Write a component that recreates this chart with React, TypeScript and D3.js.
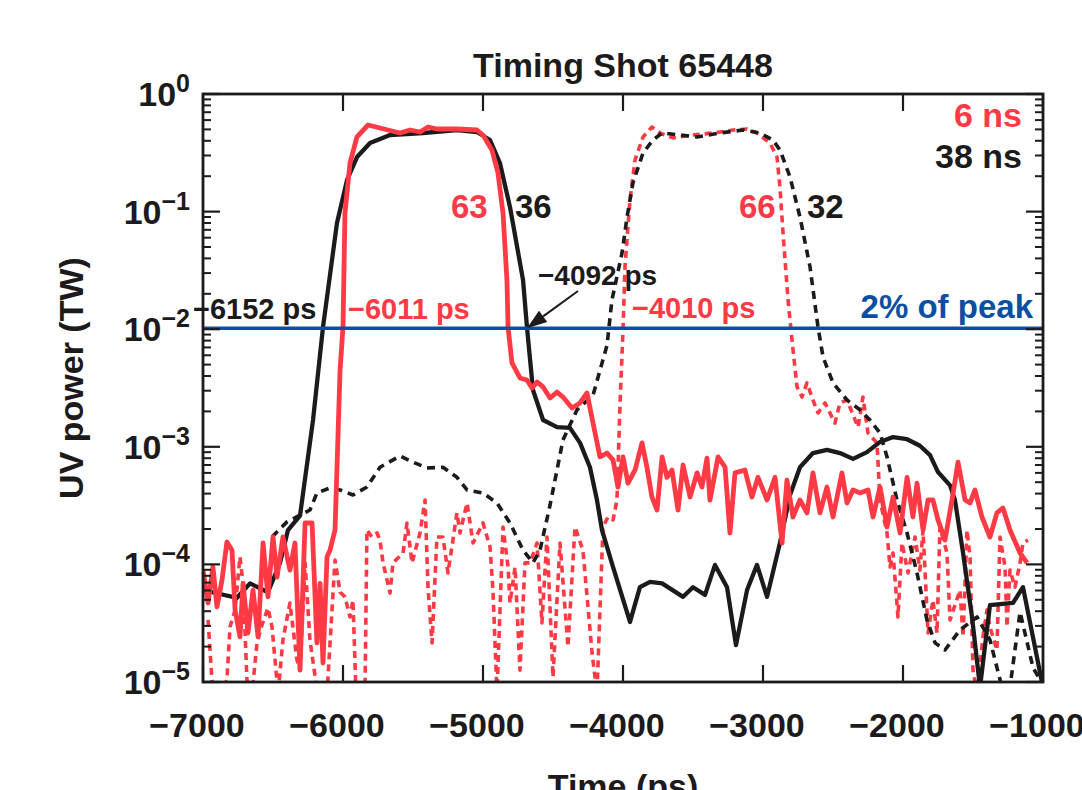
import React from "react";
import * as d3 from "d3";

const xTicks = [-7000, -6000, -5000, -4000, -3000, -2000, -1000];
const yExponents = [0, -1, -2, -3, -4, -5];
const peakFraction = 0.01;

// [time (ps), UV power (TW)]
const blackSolid38ns: [number, number][] = [
  [-7000, 6.05e-5], [-6879, 5.6e-5], [-6757, 5.2e-5], [-6664, 6.9e-5], [-6536, 5.8e-5],
  [-6450, 1.03e-4], [-6393, 1.96e-4], [-6307, 2.6e-4], [-6214, 1.69e-3], [-6143, 1.04e-2],
  [-6043, 0.08], [-5971, 0.186], [-5900, 0.291], [-5807, 0.383], [-5664, 0.448],
  [-5429, 0.466], [-5186, 0.494], [-5043, 0.475], [-4950, 0.406], [-4879, 0.259],
  [-4807, 0.109], [-4714, 0.0262], [-4686, 0.0104], [-4643, 3.04e-3], [-4571, 1.69e-3],
  [-4471, 1.47e-3], [-4379, 1.45e-3], [-4307, 1.08e-3], [-4236, 6.7e-4], [-4186, 3.53e-4],
  [-4150, 1.96e-4], [-4071, 9.5e-5], [-3950, 3.24e-5], [-3879, 6.4e-5], [-3807, 7.1e-5],
  [-3721, 6.9e-5], [-3571, 5.3e-5], [-3500, 6.4e-5], [-3414, 5.5e-5], [-3343, 9.9e-5],
  [-3257, 6.4e-5], [-3193, 2.06e-5], [-3114, 6.05e-5], [-3043, 9.9e-5], [-2971, 5.3e-5],
  [-2879, 1.52e-4], [-2807, 3.89e-4], [-2736, 6.7e-4], [-2643, 8.85e-4], [-2543, 9.4e-4],
  [-2450, 8.85e-4], [-2357, 7.9e-4], [-2257, 9.0e-4], [-2164, 1.1e-3], [-2071, 1.21e-3],
  [-1971, 1.16e-3], [-1879, 1.02e-3], [-1807, 8.5e-4], [-1750, 6.1e-4], [-1664, 4.7e-4],
  [-1629, 3.53e-4], [-1571, 1.25e-4], [-1507, 3.57e-5], [-1450, 9e-6], [-1379, 4.5e-5],
  [-1214, 4.7e-5], [-1143, 6.4e-5], [-1000, 9e-6],
];

const redSolid6ns: [number, number][] = [
  [-7000, 8.95e-5], [-6964, 4.7e-5], [-6929, 9.5e-5], [-6900, 4.35e-5], [-6864, 7.4e-5],
  [-6829, 1.55e-4], [-6793, 1.32e-4], [-6771, 4.1e-5], [-6736, 2.42e-5], [-6714, 6.9e-5],
  [-6679, 2.61e-5], [-6643, 6.05e-5], [-6607, 2.42e-5], [-6571, 1.52e-4], [-6536, 5.3e-5],
  [-6500, 1.71e-4], [-6471, 7.8e-5], [-6429, 1.71e-4], [-6379, 8.95e-5], [-6343, 1.52e-4],
  [-6307, 1.26e-5], [-6271, 2.25e-4], [-6221, 2.25e-4], [-6186, 2.15e-5], [-6164, 6.9e-5],
  [-6143, 1.45e-5], [-6114, 1.16e-4], [-6093, 1.32e-4], [-6057, 1.96e-4], [-6036, 1.21e-3],
  [-6021, 4.5e-3], [-6000, 1.04e-2], [-5986, 0.097], [-5950, 0.259], [-5900, 0.431],
  [-5821, 0.545], [-5736, 0.514], [-5593, 0.466], [-5521, 0.494], [-5450, 0.475],
  [-5393, 0.524], [-5329, 0.504], [-5186, 0.504], [-5043, 0.494], [-5000, 0.448],
  [-4936, 0.334], [-4893, 0.213], [-4857, 0.097], [-4829, 0.0262], [-4821, 0.0104],
  [-4793, 5.16e-3], [-4736, 3.85e-3], [-4686, 3.7e-3], [-4650, 3.16e-3], [-4614, 3.56e-3],
  [-4571, 3.23e-3], [-4521, 2.6e-3], [-4471, 2.92e-3], [-4429, 2.65e-3], [-4364, 2.14e-3],
  [-4307, 2.36e-3], [-4257, 2.87e-3], [-4214, 1.59e-3], [-4164, 8.2e-4], [-4114, 8.85e-4],
  [-4071, 7.7e-4], [-4036, 4.55e-4], [-4000, 8.2e-4], [-3964, 4.9e-4], [-3914, 6.35e-4],
  [-3864, 1.08e-3], [-3829, 6.7e-4], [-3793, 3.74e-4], [-3757, 2.9e-4], [-3721, 8.2e-4],
  [-3686, 5.5e-4], [-3650, 6.35e-4], [-3607, 2.9e-4], [-3571, 7.0e-4], [-3521, 3.74e-4],
  [-3471, 6.0e-4], [-3436, 4.55e-4], [-3400, 8.0e-4], [-3379, 3.53e-4], [-3321, 8.2e-4],
  [-3271, 6.7e-4], [-3236, 1.85e-4], [-3200, 6.0e-4], [-3129, 6.35e-4], [-3079, 3.74e-4],
  [-3036, 5.5e-4], [-2971, 3.53e-4], [-2914, 5.5e-4], [-2864, 1.52e-4], [-2829, 5.2e-4],
  [-2786, 2.53e-4], [-2736, 3.53e-4], [-2686, 2.74e-4], [-2643, 6.0e-4], [-2593, 2.74e-4],
  [-2543, 4.55e-4], [-2500, 2.53e-4], [-2436, 6.0e-4], [-2400, 3.33e-4], [-2357, 4.3e-4],
  [-2307, 4.05e-4], [-2250, 4.3e-4], [-2214, 2.53e-4], [-2164, 4.55e-4], [-2114, 2.08e-4],
  [-2071, 3.74e-4], [-2021, 1.85e-4], [-1971, 5.5e-4], [-1929, 2.53e-4], [-1900, 4.9e-4],
  [-1857, 1.96e-4], [-1821, 3.53e-4], [-1786, 3.53e-4], [-1750, 2.39e-4], [-1700, 1.61e-4],
  [-1650, 3.53e-4], [-1607, 7.4e-4], [-1557, 3.53e-4], [-1521, 3.33e-4], [-1486, 4.3e-4],
  [-1436, 2.53e-4], [-1379, 1.71e-4], [-1329, 2.74e-4], [-1286, 3.02e-4], [-1236, 1.96e-4],
  [-1164, 1.25e-4], [-1114, 1.03e-4],
];

const blackDashed38ns: [number, number][] = [
  [-6507, 1.71e-4], [-6400, 2.3e-4], [-6236, 2.9e-4], [-6186, 4.05e-4], [-6093, 4.47e-4],
  [-6021, 4.3e-4], [-5929, 3.89e-4], [-5829, 4.55e-4], [-5736, 6.7e-4], [-5593, 8.35e-4],
  [-5500, 7.4e-4], [-5400, 6.6e-4], [-5286, 6.7e-4], [-5186, 5.5e-4], [-5114, 4.3e-4],
  [-5000, 4.05e-4], [-4900, 3.33e-4], [-4807, 2.25e-4], [-4714, 1.32e-4], [-4643, 1.03e-4],
  [-4593, 1.32e-4], [-4521, 3.2e-4], [-4429, 1.14e-3], [-4329, 2.06e-3], [-4214, 2.75e-3],
  [-4114, 7.3e-3], [-4079, 0.0177], [-4007, 0.0445], [-3971, 0.09], [-3929, 0.175],
  [-3857, 0.315], [-3786, 0.406], [-3721, 0.466], [-3593, 0.448], [-3471, 0.431],
  [-3307, 0.466], [-3143, 0.494], [-3021, 0.466], [-2929, 0.406], [-2879, 0.334],
  [-2807, 0.197], [-2736, 0.09], [-2664, 0.0338], [-2607, 0.0104], [-2571, 5.8e-3],
  [-2500, 3.49e-3], [-2400, 2.5e-3], [-2307, 2.06e-3], [-2236, 1.69e-3], [-2164, 1.31e-3],
  [-2114, 8.2e-4], [-2043, 3.53e-4], [-1971, 1.85e-4], [-1900, 8.45e-5], [-1829, 3.37e-5],
  [-1771, 2.15e-5], [-1700, 1.87e-5], [-1593, 2.77e-5], [-1471, 3.57e-5], [-1379, 2.28e-5],
  [-1293, 9e-6], [-1236, 9e-6], [-1164, 3.94e-5], [-1071, 1.32e-5], [-1000, 9.5e-6],
];

const redDashed6ns: [number, number][] = [
  [-6964, 3.37e-5], [-6936, 1.04e-5], [-6893, 7e-6], [-6829, 1.04e-5], [-6807, 2.94e-5],
  [-6771, 4.1e-5], [-6736, 1.16e-4], [-6714, 6.9e-5], [-6686, 1.04e-5], [-6650, 8e-6],
  [-6614, 2.15e-5], [-6579, 3.05e-5], [-6536, 4.26e-5], [-6507, 2.94e-5], [-6464, 8e-6],
  [-6429, 2.28e-5], [-6379, 4.7e-5], [-6329, 1.54e-5], [-6307, 1.26e-5], [-6271, 1.03e-4],
  [-6236, 2.28e-5], [-6179, 7.5e-6], [-6114, 8e-6], [-6057, 1.09e-4], [-6021, 5.8e-5],
  [-5986, 5.3e-5], [-5950, 3.57e-5], [-5929, 4.98e-5], [-5907, 8e-6], [-5843, 8e-6],
  [-5829, 1.96e-4], [-5793, 1.71e-4], [-5757, 1.85e-4], [-5736, 1.61e-4], [-5714, 1.03e-4],
  [-5664, 5.7e-5], [-5643, 1.03e-4], [-5571, 1.25e-4], [-5543, 2.25e-4], [-5507, 1.03e-4],
  [-5450, 1.85e-4], [-5414, 3.53e-4], [-5393, 6.4e-5], [-5364, 2.15e-5], [-5329, 1.71e-4],
  [-5286, 1.71e-4], [-5250, 8.45e-5], [-5186, 2.74e-4], [-5164, 1.85e-4], [-5114, 3.33e-4],
  [-5071, 1.52e-4], [-5000, 2.25e-4], [-4950, 1.41e-4], [-4929, 6.05e-5], [-4900, 8e-6],
  [-4857, 2.08e-4], [-4821, 9.5e-5], [-4807, 4.7e-5], [-4771, 9.5e-5], [-4736, 1.26e-5],
  [-4700, 1.03e-4], [-4664, 1.03e-4], [-4614, 1.52e-4], [-4579, 3.18e-5], [-4543, 1.71e-4],
  [-4500, 1.1e-5], [-4450, 1.52e-4], [-4393, 1.99e-5], [-4343, 2.08e-4], [-4286, 1.32e-4],
  [-4221, 1.77e-5], [-4186, 8e-6], [-4143, 2.08e-4], [-4107, 2.53e-4], [-4071, 2.39e-4],
  [-4043, 3.53e-4], [-4021, 2.36e-3], [-4000, 9.8e-3], [-3986, 0.0338], [-3950, 0.126],
  [-3914, 0.275], [-3857, 0.431], [-3793, 0.524], [-3736, 0.466], [-3643, 0.423],
  [-3500, 0.448], [-3357, 0.466], [-3214, 0.494], [-3114, 0.504], [-3043, 0.466],
  [-2950, 0.383], [-2900, 0.291], [-2879, 0.162], [-2857, 0.0658], [-2821, 0.0177],
  [-2793, 8.1e-3], [-2757, 3.23e-3], [-2721, 2.65e-3], [-2686, 3.49e-3], [-2643, 2.5e-3],
  [-2607, 1.94e-3], [-2557, 2.36e-3], [-2486, 1.59e-3], [-2450, 2.36e-3], [-2400, 2.5e-3],
  [-2321, 1.47e-3], [-2286, 2.65e-3], [-2250, 1.31e-3], [-2186, 1.08e-3], [-2164, 3.53e-4],
  [-2114, 1.85e-4], [-2093, 9.5e-5], [-2071, 1.25e-4], [-2036, 3.57e-5], [-2007, 1.52e-4],
  [-1964, 8.45e-5], [-1914, 1.71e-4], [-1879, 8.95e-5], [-1857, 1.96e-4], [-1821, 2.61e-5],
  [-1786, 4.98e-5], [-1757, 2.61e-5], [-1736, 2.08e-4], [-1686, 1.25e-4], [-1664, 3.37e-5],
  [-1593, 6.05e-5], [-1571, 2.42e-5], [-1543, 1.96e-4], [-1521, 1.16e-4], [-1500, 1.26e-5],
  [-1471, 8e-6], [-1429, 2.42e-5], [-1400, 4.1e-5], [-1379, 2.94e-5], [-1329, 1.87e-5],
  [-1307, 1.71e-4], [-1271, 9.5e-5], [-1257, 2.94e-5], [-1236, 8.95e-5], [-1200, 6.4e-5],
  [-1164, 1.03e-4], [-1143, 1.52e-4], [-1107, 1.61e-4],
];

const RED = "#ff3a44";
const BLACK = "#1c1a1b";
const BLUE = "#0b4fa2";
const FONT = "'Liberation Sans', Arial, Helvetica, sans-serif";

export default function App() {
  const x = d3.scaleLinear().domain([-7000, -1000]).range([203, 1043]);
  const y = d3.scaleLog().domain([1e-5, 1]).range([682, 94]);
  const [x0, x1] = x.range();
  const [yb, yt] = y.range();
  const line = d3
    .line<[number, number]>()
    .x((d) => x(d[0]))
    .y((d) => y(Math.max(d[1], 1e-6)));

  const minor: number[] = [];
  for (let e = -5; e < 0; e++) for (let m = 2; m <= 9; m++) minor.push(m * Math.pow(10, e));

  const arrowTip = [x(-4686), y(peakFraction) - 1];
  const arrowStart = [578, 291];
  const ang = Math.atan2(arrowTip[1] - arrowStart[1], arrowTip[0] - arrowStart[0]);
  const hl = 20, hw = 7;
  const bx = arrowTip[0] - hl * Math.cos(ang), by = arrowTip[1] - hl * Math.sin(ang);
  const head = `M${arrowTip[0]},${arrowTip[1]} L${bx + hw * Math.sin(ang)},${by - hw * Math.cos(ang)} L${bx - hw * Math.sin(ang)},${by + hw * Math.cos(ang)} Z`;

  return (
    <svg width={1082} height={790} style={{ position: "absolute", left: 0, top: 0, background: "#fff" }} fontFamily={FONT} fontWeight="bold">
      <defs>
        <clipPath id="plot">
          <rect x={x0} y={yt} width={x1 - x0} height={yb - yt} />
        </clipPath>
      </defs>
      <text x={623} y={77} fontSize={34} textAnchor="middle" fill={BLACK}>Timing Shot 65448</text>

      <g clipPath="url(#plot)" fill="none" strokeLinejoin="round">
        <path d={line(redDashed6ns) || ""} stroke={RED} strokeWidth={3.6} strokeDasharray="7,5" />
        <path d={line(blackDashed38ns) || ""} stroke={BLACK} strokeWidth={3.6} strokeDasharray="8,6" />
        <path d={line(blackSolid38ns) || ""} stroke={BLACK} strokeWidth={4.3} />
        <path d={line(redSolid6ns) || ""} stroke={RED} strokeWidth={4.8} />
        <line x1={x0} x2={x1} y1={y(peakFraction) - 1} y2={y(peakFraction) - 1} stroke={BLUE} strokeWidth={3.4} />
      </g>

      {/* frame */}
      <rect x={x0} y={yt} width={x1 - x0} height={yb - yt} fill="none" stroke={BLACK} strokeWidth={2.8} />
      {xTicks.map((t) => (
        <g key={t}>
          <line x1={x(t)} x2={x(t)} y1={yb} y2={yb - 17} stroke={BLACK} strokeWidth={2.2} />
          <line x1={x(t)} x2={x(t)} y1={yt} y2={yt + 17} stroke={BLACK} strokeWidth={2.2} />
          <text x={x(t) - 6} y={737} fontSize={34} textAnchor="middle" fill={BLACK}>{"\u2212" + Math.abs(t)}</text>
        </g>
      ))}
      {yExponents.map((e) => {
        const v = Math.pow(10, e);
        return (
          <g key={e}>
            <line x1={x0} x2={x0 + 17} y1={y(v)} y2={y(v)} stroke={BLACK} strokeWidth={2.2} />
            <line x1={x1} x2={x1 - 17} y1={y(v)} y2={y(v)} stroke={BLACK} strokeWidth={2.2} />
            <text x={190} y={y(v) + 12} fontSize={34} textAnchor="end" fill={BLACK}>
              10<tspan dy={-14} fontSize={25}>{e === 0 ? "0" : "\u2212" + Math.abs(e)}</tspan>
            </text>
          </g>
        );
      })}
      {minor.map((v, i) => (
        <g key={i}>
          <line x1={x0} x2={x0 + 8} y1={y(v)} y2={y(v)} stroke={BLACK} strokeWidth={2} />
          <line x1={x1} x2={x1 - 8} y1={y(v)} y2={y(v)} stroke={BLACK} strokeWidth={2} />
        </g>
      ))}

      <text transform="translate(83,378) rotate(-90)" fontSize={34} textAnchor="middle" fill={BLACK}>UV power (TW)</text>
      <text x={623} y={798} fontSize={34} textAnchor="middle" fill={BLACK}>Time (ps)</text>

      {/* annotations */}
      <text x={1022} y={127} fontSize={34} textAnchor="end" fill={RED}>6 ns</text>
      <text x={1022} y={168} fontSize={34} textAnchor="end" fill={BLACK}>38 ns</text>
      <text x={451} y={218} fontSize={33} fill={RED}>63</text>
      <text x={515} y={218} fontSize={33} fill={BLACK}>36</text>
      <text x={739} y={218} fontSize={33} fill={RED}>66</text>
      <text x={807} y={218} fontSize={33} fill={BLACK}>32</text>
      <text x={193} y={319} fontSize={29} fill={BLACK}>{"\u22126152 ps"}</text>
      <text x={348} y={319} fontSize={29} fill={RED}>{"\u22126011 ps"}</text>
      <text x={538} y={285} fontSize={28} fill={BLACK}>{"\u22124092 ps"}</text>
      <text x={632} y={318} fontSize={29} fill={RED}>{"\u22124010 ps"}</text>
      <text x={1033} y={318} fontSize={33} textAnchor="end" fill={BLUE}>2% of peak</text>
      <line x1={arrowStart[0]} y1={arrowStart[1]} x2={bx} y2={by} stroke={BLACK} strokeWidth={2} />
      <path d={head} fill={BLACK} />
    </svg>
  );
}
